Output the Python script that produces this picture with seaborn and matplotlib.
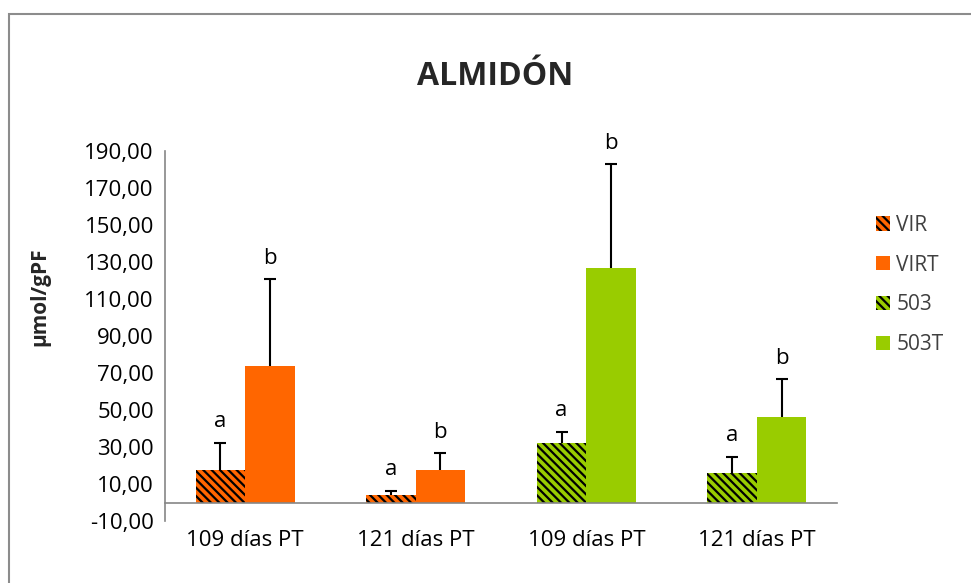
import numpy as np
import pandas as pd
import matplotlib
matplotlib.use("Agg")
import matplotlib.pyplot as plt
import seaborn as sns
from matplotlib.patches import Patch, Rectangle
from matplotlib.ticker import FuncFormatter, FixedLocator

# Datos
groups = ["g1", "g2", "g3", "g4"]
group_labels = ["109 días PT", "121 días PT", "109 días PT", "121 días PT"]
control = [17.6, 4.0, 32.3, 16.1]        # VIR, VIR, 503, 503
treated = [74.0, 17.6, 126.9, 46.4]      # VIRT, VIRT, 503T, 503T
control_err = [14.6, 2.2, 6.0, 8.7]
treated_err = [46.6, 9.0, 55.9, 20.2]
control_letters = ["a", "a", "a", "a"]
treated_letters = ["b", "b", "b", "b"]
series_names = ["VIR", "VIRT", "503", "503T"]

orange = "#FF6600"
green = "#99CC00"
group_colors = [orange, orange, green, green]
hatch = "\\\\\\\\"

sns.set_style("white")
plt.rcParams["font.family"] = ["Open Sans", "DejaVu Sans"]
plt.rcParams["hatch.linewidth"] = 1.6

df = pd.DataFrame({
    "grupo": groups * 2,
    "tipo": ["control"] * 4 + ["tratado"] * 4,
    "valor": control + treated,
})

fig = plt.figure(figsize=(9.71, 5.83), dpi=100)
ax = fig.add_axes([165 / 971, 1 - 521 / 583, 672 / 971, 370 / 583])

sns.barplot(data=df, x="grupo", y="valor", hue="tipo", order=groups,
            hue_order=["control", "tratado"], width=0.58, errorbar=None,
            saturation=1, legend=False, ax=ax)

# colores y tramas por barra
for bar, col in zip(ax.containers[0], group_colors):
    bar.set_facecolor(col)
    bar.set_edgecolor("black")
    bar.set_linewidth(0)
    bar.set_hatch(hatch)
for bar, col in zip(ax.containers[1], group_colors):
    bar.set_facecolor(col)
    bar.set_edgecolor("none")
    bar.set_linewidth(0)

# barras de error (solo positivas) y letras
for cont, errs, letters in [(ax.containers[0], control_err, control_letters),
                            (ax.containers[1], treated_err, treated_letters)]:
    xs = [b.get_x() + b.get_width() / 2 for b in cont]
    hs = [b.get_height() for b in cont]
    eb = ax.errorbar(xs, hs, yerr=[np.zeros(len(errs)), errs], fmt="none",
                     ecolor="black", elinewidth=1.5, capsize=4, capthick=1.5,
                     zorder=3)
    eb[1][0].set_visible(False)  # sin tapa inferior
    for x, h, e, t in zip(xs, hs, errs, letters):
        ax.text(x, h + e + 8.5, t, ha="center", va="baseline",
                fontsize=16, color="black")

# ejes
ax.set_ylim(-10, 190)
ax.set_yticks(np.arange(-10, 191, 20))
ax.yaxis.set_major_formatter(FuncFormatter(lambda v, p: f"{v:.2f}".replace(".", ",")))
ax.set_xlabel("")
ax.set_ylabel("")

for s in ["top", "right"]:
    ax.spines[s].set_visible(False)
axis_gray = "#868686"
ax.spines["left"].set_color(axis_gray)
ax.spines["left"].set_linewidth(1.2)
ax.spines["bottom"].set_position(("data", 0))
ax.spines["bottom"].set_color(axis_gray)
ax.spines["bottom"].set_linewidth(1.2)

ax.tick_params(axis="y", which="major", direction="out", length=5,
               width=1, color=axis_gray, labelsize=16, labelcolor="black", pad=3)
ax.set_xticks(range(len(groups)))
ax.set_xticklabels(group_labels)
ax.tick_params(axis="x", which="major", length=0, labelsize=16,
               labelcolor="black", pad=20)
ax.xaxis.set_minor_locator(FixedLocator(np.arange(-0.5, len(groups), 1.0)))
ax.tick_params(axis="x", which="minor", direction="out", length=6,
               width=1, color=axis_gray)

# título y etiqueta del eje Y
fig.text(495 / 971, 1 - 85 / 583, "ALMIDÓN", ha="center", va="baseline",
         fontsize=23, fontweight="bold")
fig.text(40 / 971, 1 - 297 / 583, "µmol/gPF", ha="center", va="center",
         rotation=90, fontsize=15, fontweight="bold")

# leyenda
handles = [
    Patch(facecolor=orange, edgecolor="black", linewidth=0, hatch=hatch),
    Patch(facecolor=orange, edgecolor="none", linewidth=0),
    Patch(facecolor=green, edgecolor="black", linewidth=0, hatch=hatch),
    Patch(facecolor=green, edgecolor="none", linewidth=0),
]
ax.legend(handles, series_names, loc="center left",
          bbox_to_anchor=(876 / 971, 1 - 285 / 583),
          bbox_transform=fig.transFigure, frameon=False, fontsize=15,
          handlelength=0.67, handleheight=0.67, handletextpad=0.3,
          labelspacing=0.9, borderpad=0, borderaxespad=0,
          labelcolor="#404040")

# marco exterior del gráfico
fig.add_artist(Rectangle((9 / 971, -0.1), 2, 1 - 14 / 583 + 0.1,
                         transform=fig.transFigure, fill=False,
                         edgecolor="#8c8c8c", linewidth=1.5))

fig.savefig("out.png", dpi=100)
